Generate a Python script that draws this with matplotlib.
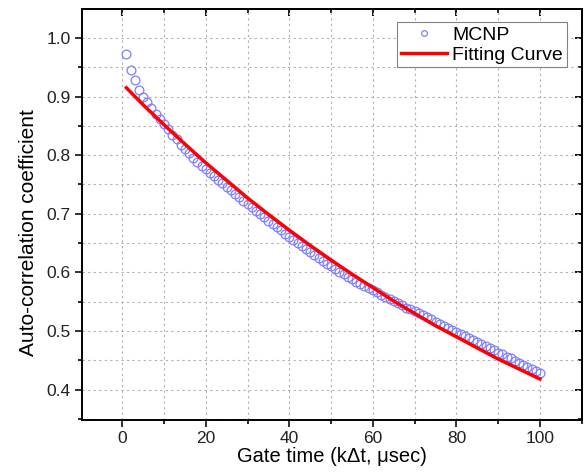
import matplotlib
matplotlib.use("Agg")
import matplotlib.pyplot as plt
from matplotlib.ticker import MultipleLocator

plt.rcParams['font.family'] = ['Liberation Sans', 'DejaVu Sans']

# MCNP auto-correlation data (gate time k = 1..100)
mcnp_x = list(range(1, 101))
mcnp_y = [0.973, 0.946, 0.928, 0.912, 0.900, 0.890, 0.880, 0.870, 0.861, 0.853,
          0.844, 0.835, 0.827, 0.818, 0.811, 0.803, 0.796, 0.789, 0.782, 0.776,
          0.770, 0.764, 0.758, 0.752, 0.746, 0.740, 0.734, 0.728, 0.722, 0.716,
          0.711, 0.705, 0.699, 0.694, 0.688, 0.683, 0.677, 0.672, 0.666, 0.661,
          0.656, 0.650, 0.645, 0.640, 0.635, 0.630, 0.625, 0.620, 0.615, 0.610,
          0.605, 0.601, 0.597, 0.592, 0.589, 0.584, 0.580, 0.577, 0.573, 0.570,
          0.566, 0.562, 0.558, 0.555, 0.551, 0.548, 0.545, 0.540, 0.537, 0.534,
          0.530, 0.527, 0.523, 0.520, 0.516, 0.512, 0.509, 0.505, 0.502, 0.499,
          0.495, 0.492, 0.488, 0.484, 0.481, 0.477, 0.474, 0.471, 0.467, 0.463,
          0.460, 0.456, 0.453, 0.449, 0.446, 0.442, 0.438, 0.435, 0.431, 0.428]

# Fitting curve
fit_x = [1, 5, 10, 15, 20, 25, 30, 35, 40, 45, 50, 55, 60, 65, 70, 75, 80, 85, 90, 95, 100]
fit_y = [0.915, 0.886, 0.852, 0.819, 0.787, 0.757, 0.727, 0.699, 0.672, 0.646, 0.621,
         0.597, 0.574, 0.551, 0.530, 0.509, 0.490, 0.471, 0.452, 0.435, 0.418]

x_ticks = [0, 20, 40, 60, 80, 100]
y_ticks = [0.4, 0.5, 0.6, 0.7, 0.8, 0.9, 1.0]

W, H = 587, 472
fig = plt.figure(figsize=(W / 100, H / 100), dpi=100)
left, right, top, bottom = 81.7, 581.7, 9, 420
ax = fig.add_axes([left / W, 1 - bottom / H, (right - left) / W, (bottom - top) / H])

ax.plot(mcnp_x, mcnp_y, linestyle='none', marker='o', markersize=6.3,
        markerfacecolor='none', markeredgecolor='#7f7fff', markeredgewidth=0.9,
        label='MCNP', zorder=3)
ax.plot(fit_x, fit_y, color='#ff0000', linewidth=2.5, label='Fitting Curve', zorder=4)

ax.set_xlim(-9.7, 110)
ax.set_ylim(0.348, 1.0495)
ax.set_xticks(x_ticks)
ax.set_yticks(y_ticks)
ax.set_yticklabels([f"{v:.1f}" for v in y_ticks])
ax.xaxis.set_minor_locator(MultipleLocator(10))
ax.yaxis.set_minor_locator(MultipleLocator(0.05))

ax.grid(True, which='both', color='#b0b0b0', linestyle=(0, (2, 3)), linewidth=0.8)
ax.set_axisbelow(True)

for s in ax.spines.values():
    s.set_linewidth(1.4)

ax.tick_params(axis='both', which='major', direction='out', length=5, width=1.3,
               labelsize=12.5, colors='#222222', pad=3)
ax.tick_params(axis='both', which='minor', direction='out', length=3, width=1.2)

# top and right ticks (inward, no labels)
secx = ax.secondary_xaxis('top')
secx.set_xticks(x_ticks)
secx.xaxis.set_minor_locator(MultipleLocator(10))
secx.tick_params(which='major', direction='in', length=5, width=1.3, labeltop=False)
secx.tick_params(which='minor', direction='in', length=3, width=1.2)
secx.spines['top'].set_linewidth(1.4)
secy = ax.secondary_yaxis('right')
secy.set_yticks(y_ticks)
secy.yaxis.set_minor_locator(MultipleLocator(0.05))
secy.tick_params(which='major', direction='in', length=5, width=1.3, labelright=False)
secy.tick_params(which='minor', direction='in', length=3, width=1.2)
secy.spines['right'].set_linewidth(1.4)

ax.set_xlabel('Gate time (k\u0394t, \u03bcsec)', fontsize=14.5, labelpad=1)
ax.set_ylabel('Auto-correlation coefficient', fontsize=15, labelpad=6)
ax.yaxis.label.set_y(0.457)

leg = ax.legend(loc='upper right', bbox_to_anchor=(0.97, 0.968), borderaxespad=0,
                fontsize=14, fancybox=False, edgecolor='#808080', framealpha=1,
                markerscale=0.65, handlelength=2.4, handletextpad=0.25,
                borderpad=0.2, labelspacing=0.12)
leg.get_frame().set_linewidth(0.8)

fig.savefig('out.png', dpi=100)
